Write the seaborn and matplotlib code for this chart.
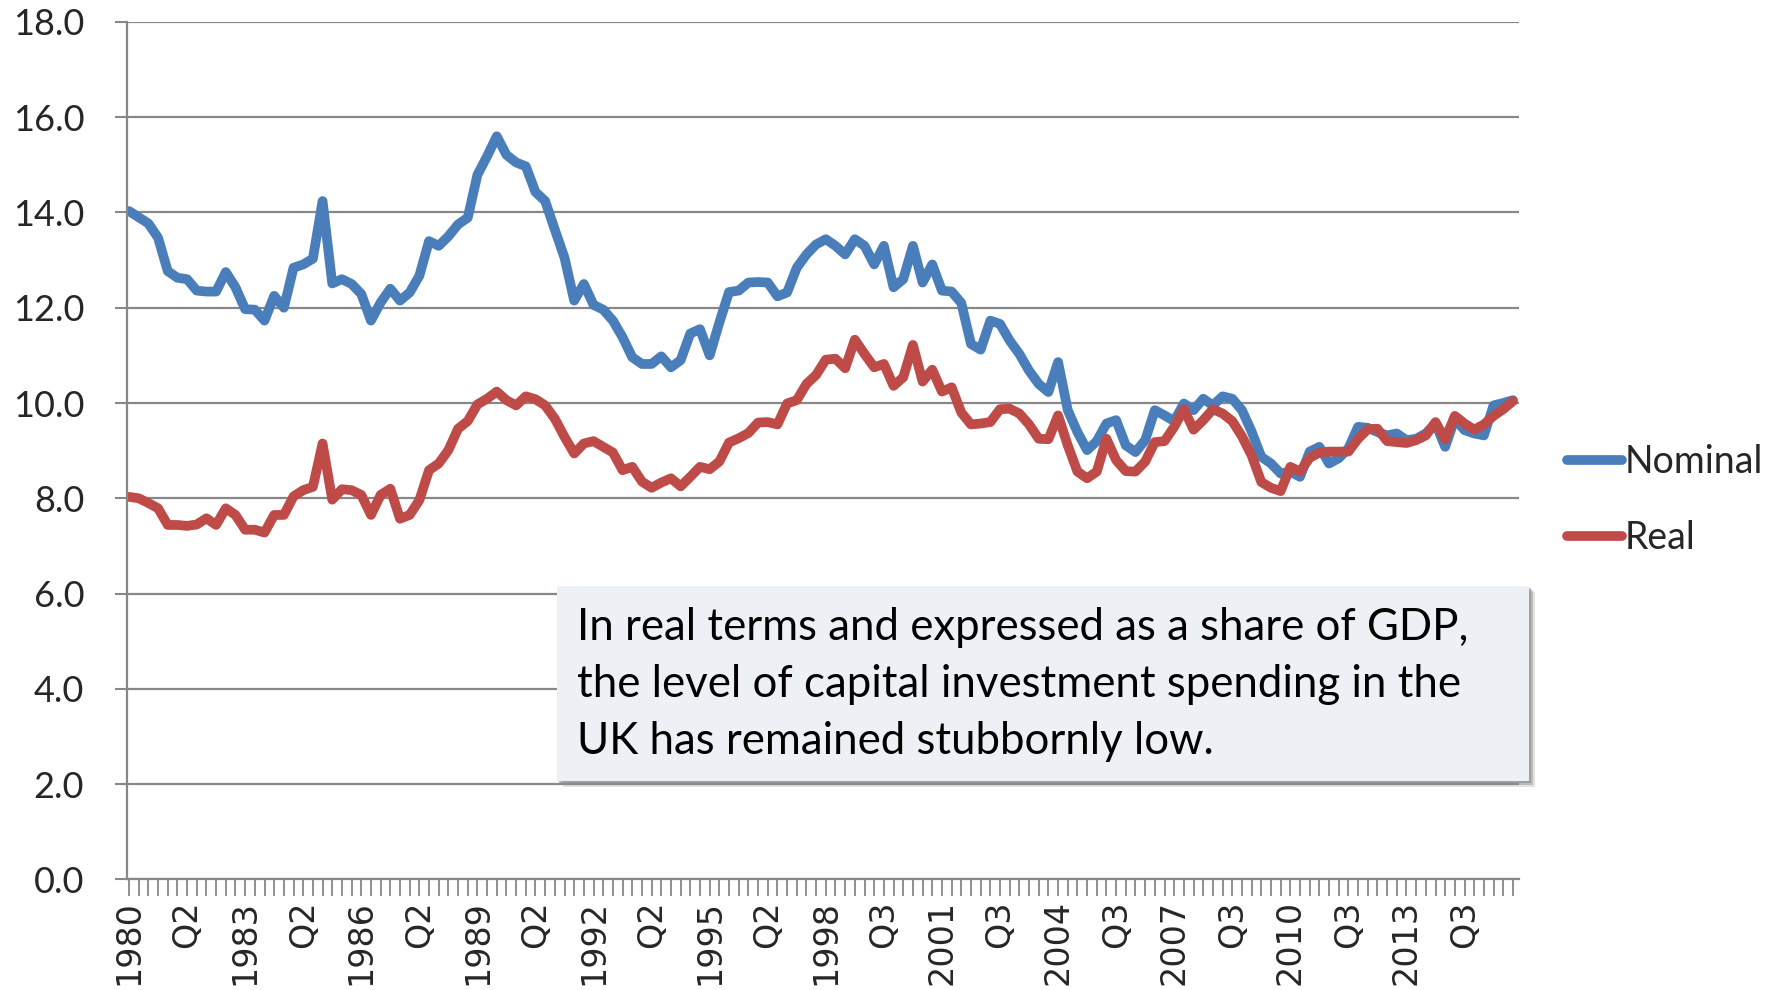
import numpy as np
import pandas as pd
import matplotlib
matplotlib.use("Agg")
import matplotlib.pyplot as plt
import seaborn as sns
from matplotlib.patches import Rectangle

# ==========================================
# Data: capital investment as % of GDP, quarterly 1980 Q1 onwards
# ==========================================
nominal = [
    14.03, 13.90, 13.77, 13.47, 12.77, 12.63, 12.60, 12.36, 12.34, 12.34,
    12.75, 12.43, 11.97, 11.96, 11.73, 12.25, 12.00, 12.84, 12.91, 13.03,
    14.24, 12.51, 12.60, 12.50, 12.29, 11.73, 12.11, 12.40, 12.15, 12.32,
    12.67, 13.40, 13.30, 13.50, 13.75, 13.89, 14.79, 15.18, 15.60, 15.21,
    15.05, 14.97, 14.43, 14.24, 13.64, 13.05, 12.15, 12.50, 12.06, 11.96,
    11.73, 11.38, 10.96, 10.82, 10.82, 10.98, 10.75, 10.90, 11.46, 11.55,
    11.00, 11.69, 12.33, 12.36, 12.53, 12.54, 12.53, 12.24, 12.32, 12.84,
    13.12, 13.33, 13.44, 13.30, 13.12, 13.44, 13.30, 12.91, 13.30, 12.43,
    12.60, 13.30, 12.53, 12.91, 12.36, 12.34, 12.10, 11.24, 11.12, 11.73,
    11.66, 11.31, 11.03, 10.68, 10.40, 10.23, 10.86, 9.85, 9.39, 9.01,
    9.20, 9.57, 9.64, 9.11, 8.97, 9.22, 9.85, 9.74, 9.62, 9.99,
    9.85, 10.09, 9.95, 10.14, 10.09, 9.85, 9.40, 8.87, 8.73, 8.52,
    8.56, 8.45, 8.98, 9.08, 8.73, 8.84, 9.05, 9.50, 9.48, 9.39,
    9.32, 9.36, 9.22, 9.25, 9.36, 9.57, 9.08, 9.67, 9.43, 9.36,
    9.32, 9.95, 10.00, 10.06,
]
real = [
    8.03, 8.00, 7.90, 7.79, 7.44, 7.44, 7.42, 7.45, 7.58, 7.44,
    7.79, 7.65, 7.34, 7.34, 7.28, 7.65, 7.65, 8.04, 8.17, 8.24,
    9.15, 7.97, 8.19, 8.17, 8.07, 7.65, 8.07, 8.20, 7.57, 7.65,
    7.96, 8.59, 8.73, 9.01, 9.46, 9.62, 9.97, 10.09, 10.24, 10.06,
    9.95, 10.14, 10.08, 9.95, 9.67, 9.29, 8.94, 9.15, 9.20, 9.08,
    8.96, 8.59, 8.66, 8.35, 8.22, 8.33, 8.42, 8.25, 8.45, 8.66,
    8.61, 8.77, 9.17, 9.26, 9.37, 9.59, 9.60, 9.55, 9.99, 10.06,
    10.40, 10.59, 10.91, 10.93, 10.73, 11.33, 11.03, 10.75, 10.82, 10.36,
    10.54, 11.22, 10.45, 10.70, 10.24, 10.33, 9.80, 9.55, 9.57, 9.60,
    9.87, 9.88, 9.78, 9.55, 9.25, 9.24, 9.74, 9.11, 8.56, 8.42,
    8.56, 9.25, 8.80, 8.57, 8.56, 8.77, 9.18, 9.20, 9.50, 9.87,
    9.44, 9.64, 9.87, 9.78, 9.62, 9.30, 8.90, 8.34, 8.22, 8.15,
    8.66, 8.56, 8.85, 8.96, 8.98, 8.98, 8.98, 9.25, 9.45, 9.46,
    9.20, 9.18, 9.16, 9.22, 9.32, 9.60, 9.24, 9.73, 9.57, 9.44,
    9.55, 9.73, 9.87, 10.04,
]
tick_labels = [
    "1980", "Q2", "1983", "Q2", "1986", "Q2", "1989", "Q2", "1992", "Q2",
    "1995", "Q2", "1998", "Q3", "2001", "Q3", "2004", "Q3", "2007", "Q3",
    "2010", "Q3", "2013", "Q3",
]
series_names = ["Nominal", "Real"]
colors = ["#4A7EBB", "#BE4B48"]
note = ("In real terms and expressed as a share of GDP,\n"
        "the level of capital investment spending in the\n"
        "UK has remained stubbornly low.")

# ==========================================
# Style
# ==========================================
sns.set_style("white")
plt.rcParams["font.family"] = ["Lato", "DejaVu Sans"]
GRID = "#888888"

quarters = np.arange(len(nominal))
df = pd.DataFrame({
    "quarter": np.tile(quarters, 2),
    "value": nominal + real,
    "series": np.repeat(series_names, len(nominal)),
})

fig = plt.figure(figsize=(17.85, 9.9), dpi=100)
ax = fig.add_axes([0.0713, 0.1118, 0.7798, 0.8660])

sns.lineplot(data=df, x="quarter", y="value", hue="series", hue_order=series_names,
             palette=colors, linewidth=7, ax=ax, solid_joinstyle="round",
             solid_capstyle="round", legend=True)

# axes
ax.set_xlim(-0.18, 143.65)
ax.set_ylim(0, 18)
ax.set_xlabel("")
ax.set_ylabel("")
ax.set_yticks(np.arange(0, 19, 2))
ax.set_yticklabels([f"{v:.1f}" for v in np.arange(0, 19, 2)], fontsize=26)
ax.set_xticks(np.arange(0, len(tick_labels) * 6, 6))
ax.set_xticklabels(tick_labels, rotation=90, fontsize=24, family="DejaVu Sans")
ax.set_xticks(quarters, minor=True)
ax.tick_params(axis="x", which="both", direction="out", length=12, width=1.3,
               color=GRID, pad=3, bottom=True)
ax.tick_params(axis="y", direction="out", length=9, width=1.5, color=GRID,
               pad=22, left=True)
ax.yaxis.grid(True, color=GRID, linewidth=1.6)
ax.xaxis.grid(False)
ax.set_axisbelow(True)
for s in ["top", "right"]:
    ax.spines[s].set_visible(False)
for s in ["left", "bottom"]:
    ax.spines[s].set_color(GRID)
    ax.spines[s].set_linewidth(1.6)

# legend on the right
handles, labels = ax.get_legend_handles_labels()
ax.legend(handles, labels, loc="center left", bbox_to_anchor=(0.878, 0.495),
          bbox_transform=fig.transFigure, frameon=False, fontsize=27,
          handlelength=1.45, handletextpad=0.08, labelspacing=1.08,
          borderpad=0, borderaxespad=0)

# ==========================================
# Annotation box with shadow
# ==========================================
bx0, by0, bw, bh = 0.312, 0.2111, 0.5446, 0.1970
for k, a in [(6, 0.25), (4, 0.45), (2, 0.6)]:
    fig.patches.append(Rectangle((bx0 + k / 1785, by0 - k / 990), bw, bh,
                                 transform=fig.transFigure, facecolor="#8C8C8C",
                                 edgecolor="none", alpha=a, zorder=5))
fig.patches.append(Rectangle((bx0, by0), bw, bh, transform=fig.transFigure,
                             facecolor="#EDF0F4", edgecolor="none", zorder=6))
fig.text(0.3232, 0.3085, note, ha="left", va="center", fontsize=31.5,
         linespacing=1.49, color="black", zorder=7)

fig.savefig("out.png", dpi=100)
print("Saved out.png")
